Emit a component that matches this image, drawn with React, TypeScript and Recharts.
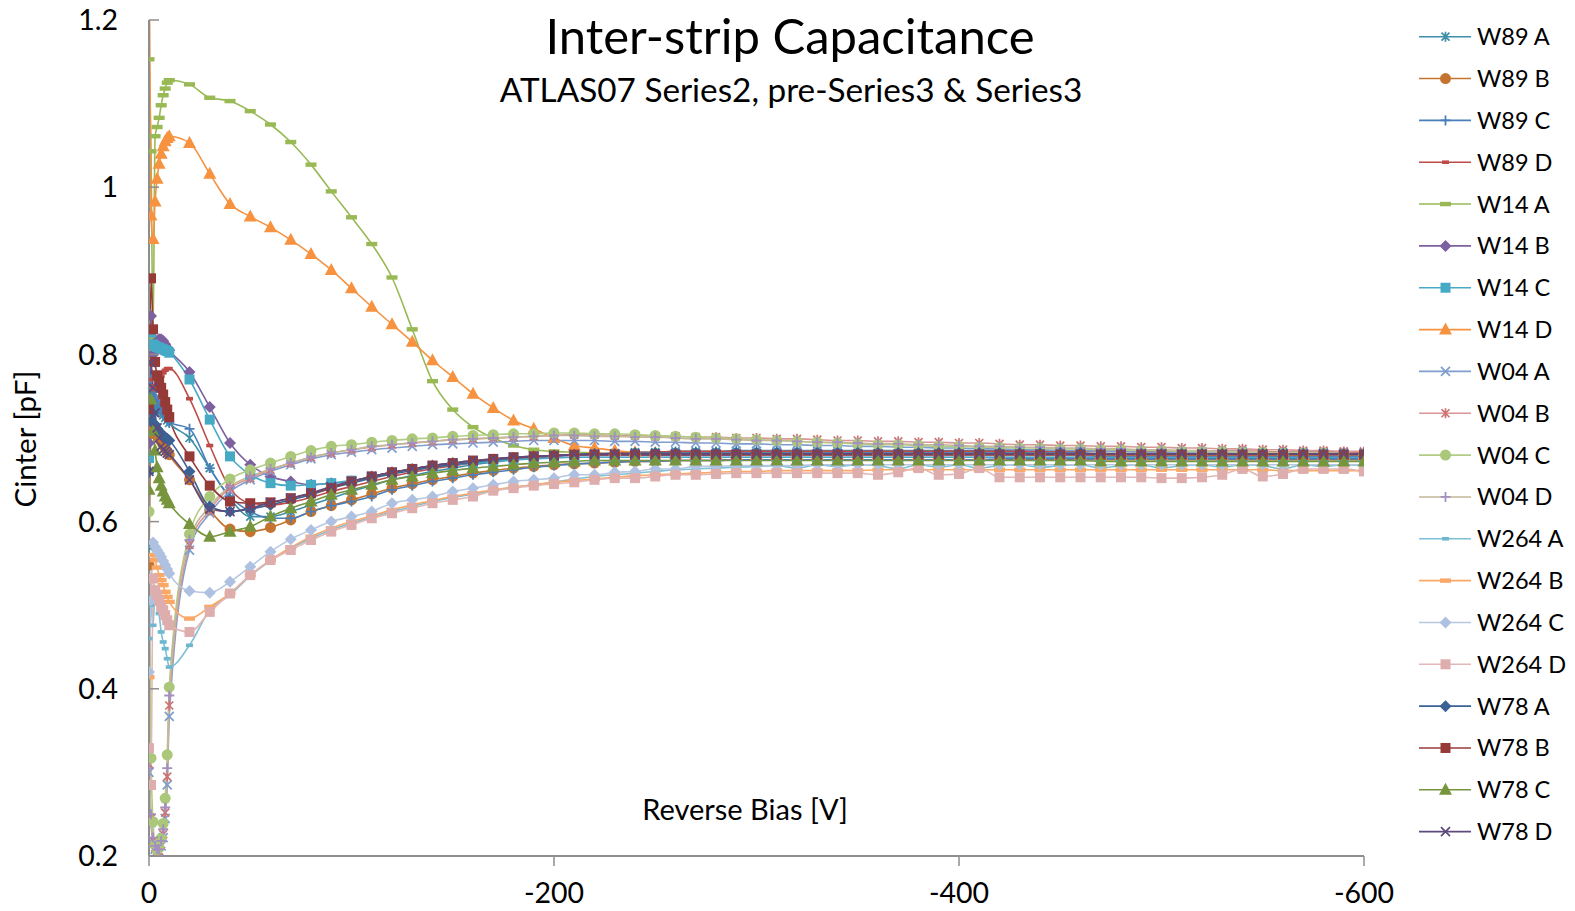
import React from 'react';
import { LineChart, Line, XAxis, YAxis } from 'recharts';

// Reverse bias points (V)
const biasVolts = [
  0, -1, -2, -3, -4, -5, -6, -7, -8, -9, -10,
  -20, -30, -40, -50, -60, -70, -80, -90, -100, -110,
  -120, -130, -140, -150, -160, -170, -180, -190, -200, -210,
  -220, -230, -240, -250, -260, -270, -280, -290, -300, -310,
  -320, -330, -340, -350, -360, -370, -380, -390, -400, -410,
  -420, -430, -440, -450, -460, -470, -480, -490, -500, -510,
  -520, -530, -540, -550, -560, -570, -580, -590, -600,
];

// Inter-strip capacitance per sample (pF)
const w89A = [
  0.570, 0.760, 0.748, 0.742, 0.738, 0.734, 0.730, 0.727, 0.724, 0.721, 0.718,
  0.700, 0.664, 0.628, 0.606, 0.606, 0.612, 0.620, 0.628, 0.636, 0.643,
  0.650, 0.655, 0.660, 0.664, 0.668, 0.671, 0.674, 0.676, 0.678, 0.680,
  0.681, 0.682, 0.683, 0.683, 0.684, 0.684, 0.684, 0.685, 0.685, 0.685,
  0.685, 0.685, 0.685, 0.685, 0.685, 0.685, 0.685, 0.685, 0.685, 0.685,
  0.685, 0.685, 0.684, 0.684, 0.684, 0.684, 0.684, 0.684, 0.684, 0.684,
  0.684, 0.684, 0.684, 0.683, 0.683, 0.683, 0.683, 0.683, 0.683,
];
const w89B = [
  0.548, 0.705, 0.716, 0.712, 0.706, 0.700, 0.696, 0.692, 0.688, 0.684, 0.680,
  0.650, 0.614, 0.591, 0.588, 0.593, 0.602, 0.612, 0.619, 0.626, 0.633,
  0.640, 0.645, 0.650, 0.654, 0.658, 0.661, 0.664, 0.666, 0.668, 0.669,
  0.670, 0.671, 0.672, 0.672, 0.673, 0.673, 0.673, 0.674, 0.674, 0.674,
  0.674, 0.674, 0.674, 0.674, 0.674, 0.674, 0.674, 0.674, 0.674, 0.674,
  0.674, 0.674, 0.674, 0.674, 0.674, 0.674, 0.674, 0.674, 0.674, 0.674,
  0.674, 0.674, 0.674, 0.674, 0.674, 0.674, 0.674, 0.674, 0.674,
];
const w89C = [
  0.658, 0.770, 0.758, 0.750, 0.744, 0.739, 0.735, 0.731, 0.727, 0.723, 0.719,
  0.711, 0.664, 0.630, 0.612, 0.604, 0.604, 0.612, 0.619, 0.624, 0.630,
  0.638, 0.643, 0.648, 0.652, 0.656, 0.659, 0.662, 0.665, 0.667, 0.669,
  0.670, 0.671, 0.672, 0.672, 0.673, 0.673, 0.673, 0.674, 0.674, 0.674,
  0.674, 0.674, 0.674, 0.674, 0.674, 0.674, 0.674, 0.674, 0.674, 0.674,
  0.675, 0.675, 0.675, 0.675, 0.675, 0.675, 0.675, 0.675, 0.675, 0.675,
  0.675, 0.675, 0.675, 0.675, 0.675, 0.675, 0.675, 0.675, 0.675,
];
const w89D = [
  0.740, 0.770, 0.762, 0.758, 0.762, 0.768, 0.774, 0.778, 0.781, 0.783, 0.783,
  0.747, 0.691, 0.640, 0.622, 0.620, 0.623, 0.629, 0.636, 0.642, 0.648,
  0.654, 0.659, 0.663, 0.667, 0.670, 0.673, 0.675, 0.677, 0.679, 0.680,
  0.681, 0.682, 0.683, 0.683, 0.684, 0.684, 0.684, 0.684, 0.684, 0.684,
  0.684, 0.684, 0.684, 0.684, 0.684, 0.684, 0.684, 0.684, 0.684, 0.684,
  0.684, 0.684, 0.684, 0.684, 0.684, 0.684, 0.684, 0.684, 0.684, 0.684,
  0.684, 0.684, 0.684, 0.684, 0.683, 0.683, 0.683, 0.683, 0.683,
];
const w14A = [
  1.153, 1.043, 0.820, 1.061, 1.072, 1.083, 1.098, 1.110, 1.118, 1.125, 1.128,
  1.123, 1.107, 1.103, 1.091, 1.075, 1.054, 1.027, 0.995, 0.964, 0.932,
  0.892, 0.830, 0.768, 0.734, 0.713, 0.700, 0.691, 0.686, 0.684, 0.683,
  0.682, 0.681, 0.681, 0.680, 0.680, 0.680, 0.680, 0.680, 0.680, 0.680,
  0.680, 0.680, 0.680, 0.680, 0.680, 0.680, 0.680, 0.680, 0.680, 0.680,
  0.680, 0.680, 0.680, 0.680, 0.680, 0.679, 0.679, 0.679, 0.679, 0.679,
  0.679, 0.679, 0.679, 0.679, 0.679, 0.679, 0.679, 0.679, 0.679,
];
const w14B = [
  0.694, 0.846, 0.800, 0.812, 0.816, 0.818, 0.818, 0.816, 0.812, 0.808, 0.805,
  0.779, 0.737, 0.694, 0.668, 0.654, 0.648, 0.644, 0.646, 0.648, 0.654,
  0.659, 0.663, 0.667, 0.670, 0.672, 0.674, 0.676, 0.677, 0.678, 0.679,
  0.679, 0.679, 0.679, 0.679, 0.679, 0.679, 0.679, 0.679, 0.679, 0.679,
  0.679, 0.679, 0.679, 0.679, 0.679, 0.679, 0.679, 0.679, 0.679, 0.679,
  0.679, 0.679, 0.679, 0.679, 0.679, 0.678, 0.678, 0.678, 0.678, 0.678,
  0.678, 0.678, 0.678, 0.678, 0.678, 0.678, 0.678, 0.678, 0.678,
];
const w14C = [
  0.676, 0.826, 0.812, 0.810, 0.809, 0.808, 0.807, 0.806, 0.805, 0.804, 0.802,
  0.770, 0.722, 0.678, 0.656, 0.646, 0.643, 0.644, 0.646, 0.649, 0.653,
  0.658, 0.662, 0.665, 0.668, 0.670, 0.672, 0.674, 0.675, 0.676, 0.677,
  0.677, 0.677, 0.677, 0.677, 0.677, 0.677, 0.677, 0.677, 0.677, 0.677,
  0.677, 0.677, 0.677, 0.677, 0.677, 0.677, 0.677, 0.677, 0.677, 0.677,
  0.677, 0.677, 0.677, 0.677, 0.677, 0.677, 0.677, 0.677, 0.677, 0.677,
  0.677, 0.677, 0.677, 0.677, 0.677, 0.677, 0.677, 0.677, 0.677,
];
const w14D = [
  1.300, 0.966, 0.938, 0.983, 1.010, 1.028, 1.040, 1.049, 1.055, 1.059, 1.061,
  1.053, 1.016, 0.980, 0.965, 0.952, 0.937, 0.920, 0.901, 0.879, 0.857,
  0.836, 0.815, 0.793, 0.773, 0.753, 0.736, 0.721, 0.711, 0.700, 0.691,
  0.688, 0.685, 0.683, 0.682, 0.681, 0.681, 0.681, 0.680, 0.680, 0.680,
  0.680, 0.680, 0.680, 0.680, 0.680, 0.680, 0.680, 0.680, 0.680, 0.680,
  0.680, 0.680, 0.680, 0.680, 0.680, 0.680, 0.680, 0.680, 0.680, 0.680,
  0.680, 0.680, 0.680, 0.680, 0.680, 0.680, 0.680, 0.680, 0.680,
];
const w04A = [
  0.300, 0.240, 0.215, 0.208, 0.204, 0.204, 0.212, 0.222, 0.245, 0.285, 0.367,
  0.566, 0.610, 0.636, 0.650, 0.660, 0.668, 0.675, 0.680, 0.683, 0.686,
  0.688, 0.690, 0.692, 0.693, 0.694, 0.695, 0.696, 0.697, 0.697, 0.697,
  0.697, 0.696, 0.696, 0.695, 0.695, 0.694, 0.694, 0.693, 0.693, 0.692,
  0.692, 0.691, 0.691, 0.690, 0.690, 0.689, 0.689, 0.688, 0.688, 0.687,
  0.687, 0.686, 0.686, 0.685, 0.685, 0.684, 0.684, 0.683, 0.683, 0.683,
  0.682, 0.682, 0.682, 0.681, 0.681, 0.681, 0.680, 0.680, 0.680,
];
const w04B = [
  0.310, 0.245, 0.218, 0.210, 0.206, 0.206, 0.214, 0.226, 0.252, 0.295, 0.380,
  0.572, 0.614, 0.640, 0.652, 0.662, 0.670, 0.677, 0.682, 0.686, 0.689,
  0.692, 0.694, 0.696, 0.698, 0.699, 0.700, 0.701, 0.702, 0.703, 0.704,
  0.704, 0.703, 0.703, 0.702, 0.702, 0.701, 0.701, 0.700, 0.700, 0.699,
  0.699, 0.698, 0.697, 0.697, 0.696, 0.696, 0.695, 0.695, 0.694, 0.694,
  0.693, 0.692, 0.692, 0.691, 0.691, 0.690, 0.690, 0.689, 0.689, 0.688,
  0.688, 0.687, 0.687, 0.686, 0.686, 0.685, 0.685, 0.684, 0.684,
];
const w04C = [
  0.612, 0.317, 0.241, 0.213, 0.207, 0.210, 0.221, 0.239, 0.269, 0.321, 0.402,
  0.585, 0.630, 0.651, 0.662, 0.670, 0.678, 0.685, 0.690, 0.692, 0.695,
  0.697, 0.699, 0.700, 0.702, 0.703, 0.704, 0.705, 0.705, 0.706, 0.706,
  0.705, 0.705, 0.704, 0.703, 0.702, 0.701, 0.700, 0.699, 0.698, 0.697,
  0.696, 0.695, 0.694, 0.693, 0.692, 0.692, 0.691, 0.690, 0.690, 0.689,
  0.689, 0.688, 0.688, 0.687, 0.687, 0.686, 0.686, 0.685, 0.685, 0.684,
  0.684, 0.684, 0.683, 0.683, 0.682, 0.682, 0.682, 0.681, 0.681,
];
const w04D = [
  0.305, 0.250, 0.222, 0.212, 0.208, 0.208, 0.218, 0.232, 0.258, 0.305, 0.392,
  0.578, 0.618, 0.642, 0.654, 0.663, 0.670, 0.677, 0.682, 0.686, 0.690,
  0.692, 0.694, 0.696, 0.698, 0.699, 0.700, 0.701, 0.702, 0.703, 0.703,
  0.702, 0.702, 0.701, 0.701, 0.700, 0.699, 0.699, 0.698, 0.697, 0.697,
  0.696, 0.695, 0.695, 0.694, 0.693, 0.693, 0.692, 0.692, 0.691, 0.690,
  0.690, 0.689, 0.689, 0.688, 0.688, 0.687, 0.687, 0.686, 0.686, 0.685,
  0.685, 0.684, 0.684, 0.683, 0.683, 0.683, 0.682, 0.682, 0.681,
];
const w264A = [
  0.460, 0.500, 0.476, 0.520, 0.505, 0.490, 0.468, 0.456, 0.448, 0.436, 0.426,
  0.452, 0.494, 0.512, 0.535, 0.553, 0.568, 0.580, 0.590, 0.598, 0.605,
  0.612, 0.618, 0.624, 0.629, 0.633, 0.637, 0.641, 0.644, 0.647, 0.651,
  0.654, 0.656, 0.658, 0.660, 0.662, 0.663, 0.664, 0.665, 0.666, 0.667,
  0.664, 0.668, 0.666, 0.668, 0.667, 0.663, 0.668, 0.665, 0.668, 0.664,
  0.667, 0.668, 0.665, 0.667, 0.668, 0.664, 0.667, 0.668, 0.664, 0.667,
  0.668, 0.665, 0.668, 0.667, 0.663, 0.668, 0.666, 0.668, 0.667,
];
const w264B = [
  0.414, 0.530, 0.560, 0.554, 0.545, 0.536, 0.530, 0.524, 0.516, 0.510, 0.504,
  0.484, 0.498, 0.514, 0.536, 0.554, 0.569, 0.582, 0.592, 0.600, 0.607,
  0.614, 0.620, 0.625, 0.630, 0.634, 0.638, 0.641, 0.644, 0.647, 0.649,
  0.651, 0.653, 0.655, 0.656, 0.657, 0.658, 0.659, 0.660, 0.660, 0.661,
  0.661, 0.661, 0.661, 0.661, 0.662, 0.662, 0.662, 0.662, 0.662, 0.662,
  0.662, 0.662, 0.662, 0.662, 0.662, 0.662, 0.662, 0.662, 0.662, 0.662,
  0.662, 0.662, 0.662, 0.662, 0.661, 0.661, 0.661, 0.661, 0.661,
];
const w264C = [
  0.420, 0.506, 0.575, 0.570, 0.566, 0.562, 0.558, 0.553, 0.548, 0.543, 0.538,
  0.517, 0.515, 0.528, 0.546, 0.564, 0.579, 0.590, 0.600, 0.606, 0.612,
  0.622, 0.626, 0.630, 0.636, 0.640, 0.644, 0.648, 0.650, 0.652, 0.656,
  0.656, 0.659, 0.660, 0.663, 0.663, 0.666, 0.666, 0.667, 0.667, 0.667,
  0.667, 0.668, 0.668, 0.668, 0.668, 0.668, 0.668, 0.668, 0.668, 0.668,
  0.668, 0.668, 0.668, 0.668, 0.668, 0.668, 0.668, 0.668, 0.668, 0.668,
  0.668, 0.668, 0.668, 0.668, 0.668, 0.668, 0.668, 0.668, 0.668,
];
const w264D = [
  0.329, 0.285, 0.532, 0.518, 0.512, 0.505, 0.498, 0.494, 0.488, 0.482, 0.476,
  0.468, 0.492, 0.514, 0.536, 0.554, 0.566, 0.578, 0.588, 0.596, 0.604,
  0.610, 0.616, 0.622, 0.626, 0.630, 0.637, 0.640, 0.643, 0.645, 0.647,
  0.650, 0.652, 0.652, 0.654, 0.656, 0.656, 0.657, 0.658, 0.658, 0.658,
  0.658, 0.658, 0.658, 0.658, 0.656, 0.659, 0.664, 0.656, 0.657, 0.664,
  0.653, 0.653, 0.653, 0.653, 0.653, 0.653, 0.653, 0.653, 0.652, 0.652,
  0.653, 0.656, 0.663, 0.654, 0.657, 0.663, 0.663, 0.663, 0.660,
];
const w78A = [
  0.660, 0.720, 0.730, 0.716, 0.711, 0.708, 0.705, 0.703, 0.701, 0.699, 0.697,
  0.660, 0.618, 0.612, 0.615, 0.620, 0.626, 0.632, 0.640, 0.646, 0.652,
  0.657, 0.661, 0.665, 0.668, 0.671, 0.674, 0.676, 0.678, 0.679, 0.680,
  0.681, 0.681, 0.682, 0.682, 0.682, 0.682, 0.682, 0.682, 0.682, 0.682,
  0.682, 0.682, 0.682, 0.682, 0.682, 0.682, 0.682, 0.682, 0.682, 0.682,
  0.682, 0.682, 0.682, 0.682, 0.682, 0.681, 0.681, 0.681, 0.681, 0.681,
  0.681, 0.681, 0.681, 0.681, 0.681, 0.681, 0.681, 0.681, 0.681,
];
const w78B = [
  0.735, 0.891, 0.830, 0.791, 0.775, 0.768, 0.760, 0.752, 0.743, 0.734, 0.725,
  0.678, 0.643, 0.624, 0.622, 0.623, 0.628, 0.634, 0.640, 0.648, 0.654,
  0.659, 0.663, 0.667, 0.670, 0.673, 0.675, 0.677, 0.678, 0.679, 0.680,
  0.680, 0.680, 0.680, 0.680, 0.680, 0.680, 0.680, 0.680, 0.680, 0.680,
  0.680, 0.680, 0.680, 0.680, 0.680, 0.680, 0.680, 0.680, 0.680, 0.680,
  0.680, 0.680, 0.680, 0.680, 0.680, 0.680, 0.680, 0.680, 0.680, 0.680,
  0.680, 0.680, 0.680, 0.680, 0.680, 0.680, 0.680, 0.680, 0.680,
];
const w78C = [
  0.638, 0.746, 0.708, 0.685, 0.665, 0.652, 0.643, 0.636, 0.630, 0.626, 0.622,
  0.597, 0.582, 0.588, 0.594, 0.606, 0.616, 0.624, 0.632, 0.638, 0.644,
  0.650, 0.654, 0.658, 0.661, 0.664, 0.666, 0.668, 0.670, 0.671, 0.672,
  0.673, 0.673, 0.673, 0.673, 0.673, 0.673, 0.673, 0.673, 0.673, 0.673,
  0.673, 0.673, 0.673, 0.673, 0.673, 0.673, 0.673, 0.673, 0.673, 0.673,
  0.673, 0.673, 0.673, 0.673, 0.673, 0.672, 0.672, 0.672, 0.672, 0.672,
  0.672, 0.672, 0.672, 0.672, 0.672, 0.672, 0.672, 0.672, 0.672,
];
const w78D = [
  0.660, 0.790, 0.760, 0.730, 0.712, 0.700, 0.690, 0.686, 0.684, 0.682, 0.680,
  0.650, 0.615, 0.612, 0.616, 0.623, 0.628, 0.634, 0.642, 0.648, 0.654,
  0.659, 0.663, 0.667, 0.670, 0.673, 0.675, 0.677, 0.678, 0.679, 0.680,
  0.681, 0.681, 0.681, 0.681, 0.681, 0.681, 0.681, 0.681, 0.681, 0.681,
  0.681, 0.681, 0.681, 0.681, 0.681, 0.681, 0.681, 0.681, 0.681, 0.681,
  0.681, 0.681, 0.681, 0.681, 0.681, 0.681, 0.681, 0.681, 0.681, 0.681,
  0.681, 0.681, 0.681, 0.681, 0.681, 0.681, 0.681, 0.681, 0.681,
];

const seriesNames = [
  'W89 A', 'W89 B', 'W89 C', 'W89 D',
  'W14 A', 'W14 B', 'W14 C', 'W14 D',
  'W04 A', 'W04 B', 'W04 C', 'W04 D',
  'W264 A', 'W264 B', 'W264 C', 'W264 D',
  'W78 A', 'W78 B', 'W78 C', 'W78 D',
];
const seriesValues = [
  w89A, w89B, w89C, w89D,
  w14A, w14B, w14C, w14D,
  w04A, w04B, w04C, w04D,
  w264A, w264B, w264C, w264D,
  w78A, w78B, w78C, w78D,
];
const lineColors = [
  '#3C8FA6', '#C5742F', '#4A7EBB', '#BE4B48',
  '#98B954', '#7D60A0', '#46AAC5', '#F69240',
  '#7F9ED0', '#D99694', '#B1CD85', '#C3B996',
  '#7BC0D5', '#F9A868', '#B7C7E2', '#E3B7B6',
  '#3A6294', '#963A38', '#77953D', '#5E4A7C',
];
const markerColors = [
  '#3C8FA6', '#C5742F', '#4A7EBB', '#BE4B48',
  '#98B954', '#7D60A0', '#46AAC5', '#F69240',
  '#7F9ED0', '#CD7371', '#AAC77A', '#A48FC0',
  '#6FB7CE', '#F9A868', '#AFC1E0', '#DDAEAD',
  '#3A6294', '#963A38', '#77953D', '#5E4A7C',
];
const markerShapes = [
  'star', 'circle', 'plus', 'dashS',
  'dashL', 'diamond', 'square', 'triangle',
  'x', 'star', 'circle', 'plus',
  'dashS', 'dashL', 'diamond', 'square',
  'diamond', 'square', 'triangle', 'x',
];

const xTicks = [0, -200, -400, -600];
const yTicks = [0.2, 0.4, 0.6, 0.8, 1, 1.2];

const FONT = 'Lato, "Open Sans", sans-serif';
const AXIS = '#8E8E8E';

const rows = biasVolts.map((v, i) => {
  const row: Record<string, number> = { bias: v };
  seriesNames.forEach((n, k) => {
    row[n] = seriesValues[k][i];
  });
  return row;
});

function Marker({ shape, color, cx, cy }: { shape: string; color: string; cx: number; cy: number }) {
  switch (shape) {
    case 'circle':
      return <circle cx={cx} cy={cy} r={5.5} fill={color} />;
    case 'square':
      return <rect x={cx - 5} y={cy - 5} width={10} height={10} fill={color} />;
    case 'diamond':
      return <path d={`M${cx},${cy - 6}L${cx + 6},${cy}L${cx},${cy + 6}L${cx - 6},${cy}Z`} fill={color} />;
    case 'triangle':
      return <path d={`M${cx},${cy - 7}L${cx + 6.5},${cy + 5}L${cx - 6.5},${cy + 5}Z`} fill={color} />;
    case 'x':
      return (
        <path
          d={`M${cx - 4.5},${cy - 4.5}L${cx + 4.5},${cy + 4.5}M${cx - 4.5},${cy + 4.5}L${cx + 4.5},${cy - 4.5}`}
          stroke={color}
          strokeWidth={1.7}
          fill="none"
        />
      );
    case 'star':
      return (
        <path
          d={`M${cx - 4},${cy - 4}L${cx + 4},${cy + 4}M${cx - 4},${cy + 4}L${cx + 4},${cy - 4}M${cx},${cy - 5}L${cx},${cy + 5}`}
          stroke={color}
          strokeWidth={1.7}
          fill="none"
        />
      );
    case 'plus':
      return (
        <path
          d={`M${cx - 5},${cy}L${cx + 5},${cy}M${cx},${cy - 5}L${cx},${cy + 5}`}
          stroke={color}
          strokeWidth={1.8}
          fill="none"
        />
      );
    case 'dashS':
      return <rect x={cx - 3.5} y={cy - 1.8} width={7} height={3.6} fill={color} />;
    case 'dashL':
      return <rect x={cx - 5.5} y={cy - 2.2} width={11} height={4.4} fill={color} />;
    default:
      return null;
  }
}

const makeDot = (shape: string, color: string) => (props: any) => {
  const { cx, cy, index } = props;
  const key = `pt-${index}`;
  if (cx == null || cy == null || Number.isNaN(cy)) return <g key={key} />;
  return (
    <g key={key}>
      <Marker shape={shape} color={color} cx={cx} cy={cy} />
    </g>
  );
};

function YTick(props: any) {
  const { x, y, payload } = props;
  const label = String(Math.round(payload.value * 10) / 10);
  return (
    <g>
      <line x1={x + 31} x2={x + 41} y1={y} y2={y} stroke={AXIS} strokeWidth={1.5} />
      <text x={x} y={y} dy="0.36em" textAnchor="end" fontSize={28.5} fill="#000" fontFamily={FONT}>
        {label}
      </text>
    </g>
  );
}

function LegendPanel() {
  const top = 36.7;
  const step = 41.84;
  return (
    <g>
      {seriesNames.map((name, i) => {
        const cy = top + i * step;
        return (
          <g key={name}>
            <line x1={1419} x2={1471} y1={cy} y2={cy} stroke={lineColors[i]} strokeWidth={1.6} />
            <Marker shape={markerShapes[i]} color={markerColors[i]} cx={1445.5} cy={cy} />
            <text x={1477} y={cy} dy="0.36em" fontSize={23.5} fill="#000" fontFamily={FONT}>
              {name}
            </text>
          </g>
        );
      })}
    </g>
  );
}

export default function App() {
  return (
    <div style={{ position: 'absolute', left: 0, top: 0, width: 1575, height: 911, background: '#fff', fontFamily: FONT }}>
      <LineChart width={1575} height={911} data={rows} margin={{ top: 20, right: 211, bottom: 0, left: 0 }}>
        <XAxis
          dataKey="bias"
          type="number"
          domain={[-600, 0]}
          reversed
          allowDataOverflow
          ticks={xTicks}
          interval={0}
          height={55}
          axisLine={{ stroke: AXIS, strokeWidth: 2 }}
          tickLine={{ stroke: AXIS, strokeWidth: 1.5 }}
          tickSize={10}
          tickMargin={17}
          tick={{ fontSize: 28.5, fill: '#000', fontFamily: FONT }}
        />
        <YAxis
          type="number"
          domain={[0.2, 1.2]}
          allowDataOverflow
          ticks={yTicks}
          interval={0}
          width={149}
          axisLine={{ stroke: AXIS, strokeWidth: 2 }}
          tickLine={false}
          tickSize={0}
          tickMargin={31}
          tick={(p: any) => <YTick {...p} />}
        />
        {seriesNames.map((name, i) => (
          <Line
            key={name}
            dataKey={name}
            type="monotone"
            stroke={lineColors[i]}
            strokeWidth={1.6}
            dot={makeDot(markerShapes[i], markerColors[i])}
            activeDot={false}
            isAnimationActive={false}
          />
        ))}
      </LineChart>
      <svg
        width={1575}
        height={911}
        style={{ position: 'absolute', left: 0, top: 0, pointerEvents: 'none' }}
        fontFamily={FONT}
      >
        <text x={790} y={54} textAnchor="middle" fontSize={49} fill="#000">
          Inter-strip Capacitance
        </text>
        <text x={791} y={102} textAnchor="middle" fontSize={33.3} fill="#000">
          ATLAS07 Series2, pre-Series3 &amp; Series3
        </text>
        <text x={745} y={820} textAnchor="middle" fontSize={29} fill="#000">
          Reverse Bias [V]
        </text>
        <text transform="translate(36,439) rotate(-90)" textAnchor="middle" fontSize={29.5} fill="#000">
          Cinter [pF]
        </text>
        <LegendPanel />
      </svg>
    </div>
  );
}
